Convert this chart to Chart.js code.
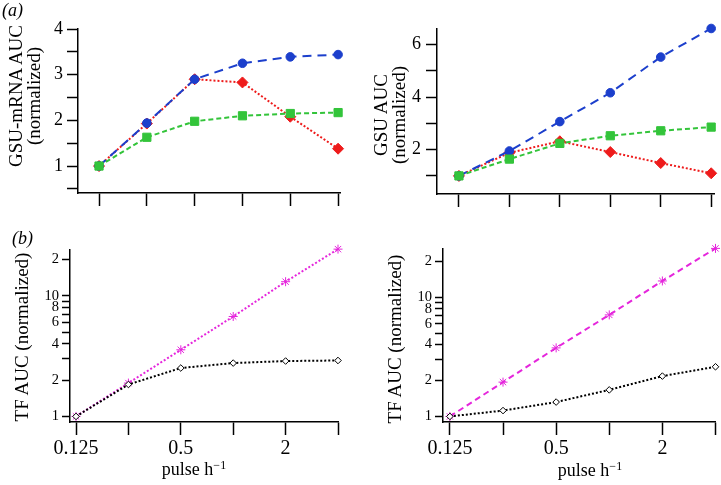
<!DOCTYPE html>
<html>
<head>
<meta charset="utf-8">
<script src="https://cdn.jsdelivr.net/npm/chart.js@4.4.0/dist/chart.umd.min.js"></script>
<style>
  body { margin: 0; background: #fff; }
  #wrap { position: relative; width: 721px; height: 485px; font-family: 'Liberation Serif', 'Times New Roman', serif; color: #000; }
  .box { position: absolute; }
  .lbl { position: absolute; white-space: nowrap; transform: translate(-50%, -50%); font-size: 18px; }
  .rot { transform: translate(-50%, -50%) rotate(-90deg); text-align: center; font-size: 19px; line-height: 18px; }
  .panel { position: absolute; font-style: italic; font-size: 18px; line-height: 18px; }
  sup { font-size: 12px; vertical-align: 6px; line-height: 0; }
</style>
</head>
<body>
<div id="wrap">
  <div class="box" style="left:0;top:0"><canvas id="a1" width="360" height="220"></canvas></div>
  <div class="box" style="left:360px;top:0"><canvas id="a2" width="361" height="220"></canvas></div>
  <div class="box" style="left:0;top:220px"><canvas id="b1" width="360" height="265"></canvas></div>
  <div class="box" style="left:360px;top:220px"><canvas id="b2" width="361" height="265"></canvas></div>

  <div class="panel" style="left:2px;top:1px">(a)</div>
  <div class="panel" style="left:12px;top:229px">(b)</div>

  <div class="lbl rot" style="left:25px;top:96px">GSU-mRNA AUC<br>(normalized)</div>
  <div class="lbl rot" style="left:390px;top:115px">GSU AUC<br>(normalized)</div>
  <div class="lbl rot" style="left:22px;top:337px">TF AUC (normalized)</div>
  <div class="lbl rot" style="left:395px;top:339px">TF AUC (normalized)</div>
  <div class="lbl" style="left:194px;top:469px">pulse h<sup>−1</sup></div>
  <div class="lbl" style="left:590px;top:470px">pulse h<sup>−1</sup></div>
</div>
<script>
// pulse frequency (pulses per hour)
const pulse = [0.125, 0.25, 0.5, 1, 2, 4];
const pulseLabels = ['0.125', '', '0.5', '', '2', ''];

// (a) left: GSU-mRNA AUC
const mrnaBlue  = [1.0, 1.94, 2.90, 3.25, 3.39, 3.44];
const mrnaRed   = [1.0, 1.93, 2.90, 2.83, 2.08, 1.38];
const mrnaGreen = [1.0, 1.63, 1.98, 2.10, 2.15, 2.17];

// (a) right: GSU AUC
const gsuBlue  = [1.0, 1.95, 3.07, 4.17, 5.53, 6.62];
const gsuRed   = [1.0, 1.88, 2.32, 1.91, 1.49, 1.10];
const gsuGreen = [1.0, 1.64, 2.24, 2.53, 2.72, 2.86];

// (b) TF AUC, log scale
const tfLeftMag    = [1, 1.89, 3.57, 6.74, 13.1, 24.4];
const tfLeftBlack  = [1, 1.84, 2.52, 2.77, 2.88, 2.91];
const tfRightMag   = [1, 1.94, 3.76, 7.11, 13.7, 25.7];
const tfRightBlack = [1, 1.12, 1.32, 1.67, 2.18, 2.61];

const ticksA1 = [0.5, 1, 1.5, 2, 2.5, 3, 3.5, 4];
const ticksA2 = [1, 2, 3, 4, 5, 6];
const ticksB = [1, 2, 3, 4, 5, 6, 7, 8, 9, 10, 20];
const labelsB = {1: '1', 2: '2', 4: '4', 6: '6', 8: '8', 10: '10', 20: '2'};

const BLUE = '#1c3fcc', RED = '#ee1b1b', GREEN = '#33c43a', MAG = '#e526dc', BLACK = '#000';
const FONT = "'Liberation Serif', 'Times New Roman', serif";

function pts(arr) {
  return arr.map((v, i) => ({x: pulse[i], y: v}));
}

function ds(values, color, dash, style, radius, bg) {
  return {
    data: pts(values),
    borderColor: color,
    borderWidth: 2,
    borderDash: dash,
    pointStyle: style,
    pointRadius: radius,
    pointBackgroundColor: bg || color,
    pointBorderColor: color,
    pointBorderWidth: 1,
    fill: false,
    tension: 0,
    clip: false
  };
}

// axis range in units of the pulse index (log2 steps from 0.125)
function pr(i) { return 0.125 * Math.pow(2, i); }

function makeChart(id, o) {
  new Chart(document.getElementById(id), {
    type: 'line',
    data: {datasets: o.datasets},
    options: {
      responsive: false,
      animation: false,
      layout: {padding: {top: o.top, right: o.right, left: 0, bottom: 0}},
      plugins: {legend: {display: false}, tooltip: {enabled: false}},
      scales: {
        x: {
          type: 'logarithmic',
          min: pr(o.xMin), max: pr(o.xMax),
          afterBuildTicks: s => { s.ticks = pulse.map(v => ({value: v})); },
          afterFit: s => { s.height = o.xH; },
          border: {color: BLACK, width: 1.5},
          grid: {drawOnChartArea: false, tickLength: 13, tickColor: BLACK, tickWidth: 1.5},
          ticks: {
            autoSkip: false, maxRotation: 0, padding: 2, color: BLACK,
            font: {family: FONT, size: 20},
            callback: (v, i) => o.xLabels ? pulseLabels[i] : ''
          }
        },
        y: {
          type: o.yType,
          min: o.yMin, max: o.yMax,
          afterBuildTicks: s => { s.ticks = o.yTicks.map(v => ({value: v})); },
          afterFit: s => { s.width = o.yW; },
          border: {color: BLACK, width: 1.5},
          grid: {drawOnChartArea: false, tickLength: o.yTickLen, tickColor: BLACK, tickWidth: 1.5},
          ticks: {
            autoSkip: false, padding: o.yPad, color: BLACK,
            font: {family: FONT, size: o.yFont},
            callback: o.yLabel
          }
        }
      }
    }
  });
}

makeChart('a1', {
  datasets: [
    ds(mrnaGreen, GREEN, [5, 3], 'rect', 5.8),
    ds(mrnaBlue, BLUE, [9, 6], 'circle', 4.3),
    ds(mrnaRed, RED, [2, 2], 'rectRot', 5.5)
  ],
  top: 29, right: 20, xH: 27, yW: 78,
  xMin: -0.44, xMax: 5.04,
  yType: 'linear', yMin: 0.41, yMax: 4.0, yTicks: ticksA1,
  yTickLen: 11, yPad: 4, yFont: 18,
  yLabel: v => Number.isInteger(v) ? String(v) : ''
});

makeChart('a2', {
  datasets: [
    ds(gsuGreen, GREEN, [5, 3], 'rect', 5.8),
    ds(gsuBlue, BLUE, [9, 6], 'circle', 4.3),
    ds(gsuRed, RED, [2, 2], 'rectRot', 5.5)
  ],
  top: 29, right: 2, xH: 26, yW: 77,
  xMin: -0.435, xMax: 5.06,
  yType: 'linear', yMin: 0.31, yMax: 6.6, yTicks: ticksA2,
  yTickLen: 11, yPad: 5, yFont: 18,
  yLabel: v => v % 2 === 0 ? String(v) : ''
});

makeChart('b1', {
  datasets: [
    ds(tfLeftBlack, BLACK, [2, 2], 'rectRot', 3.3, '#fff'),
    ds(tfLeftMag, MAG, [2, 2], 'star', 4.5)
  ],
  top: 30, right: 22, xH: 63, yW: 70, xLabels: true,
  xMin: -0.115, xMax: 5.0,
  yType: 'logarithmic', yMin: 0.899, yMax: 24.0, yTicks: ticksB,
  yTickLen: 8, yPad: 3, yFont: 14.5,
  yLabel: v => labelsB[v] || ''
});

makeChart('b2', {
  datasets: [
    ds(tfRightBlack, BLACK, [2, 2], 'rectRot', 3.3, '#fff'),
    ds(tfRightMag, MAG, [6, 4], 'star', 4.5)
  ],
  top: 29, right: 4, xH: 63, yW: 83, xLabels: true,
  xMin: -0.13, xMax: 5.0,
  yType: 'logarithmic', yMin: 0.898, yMax: 25.4, yTicks: ticksB,
  yTickLen: 8, yPad: 3, yFont: 14.5,
  yLabel: v => labelsB[v] || ''
});
</script>
</body>
</html>
